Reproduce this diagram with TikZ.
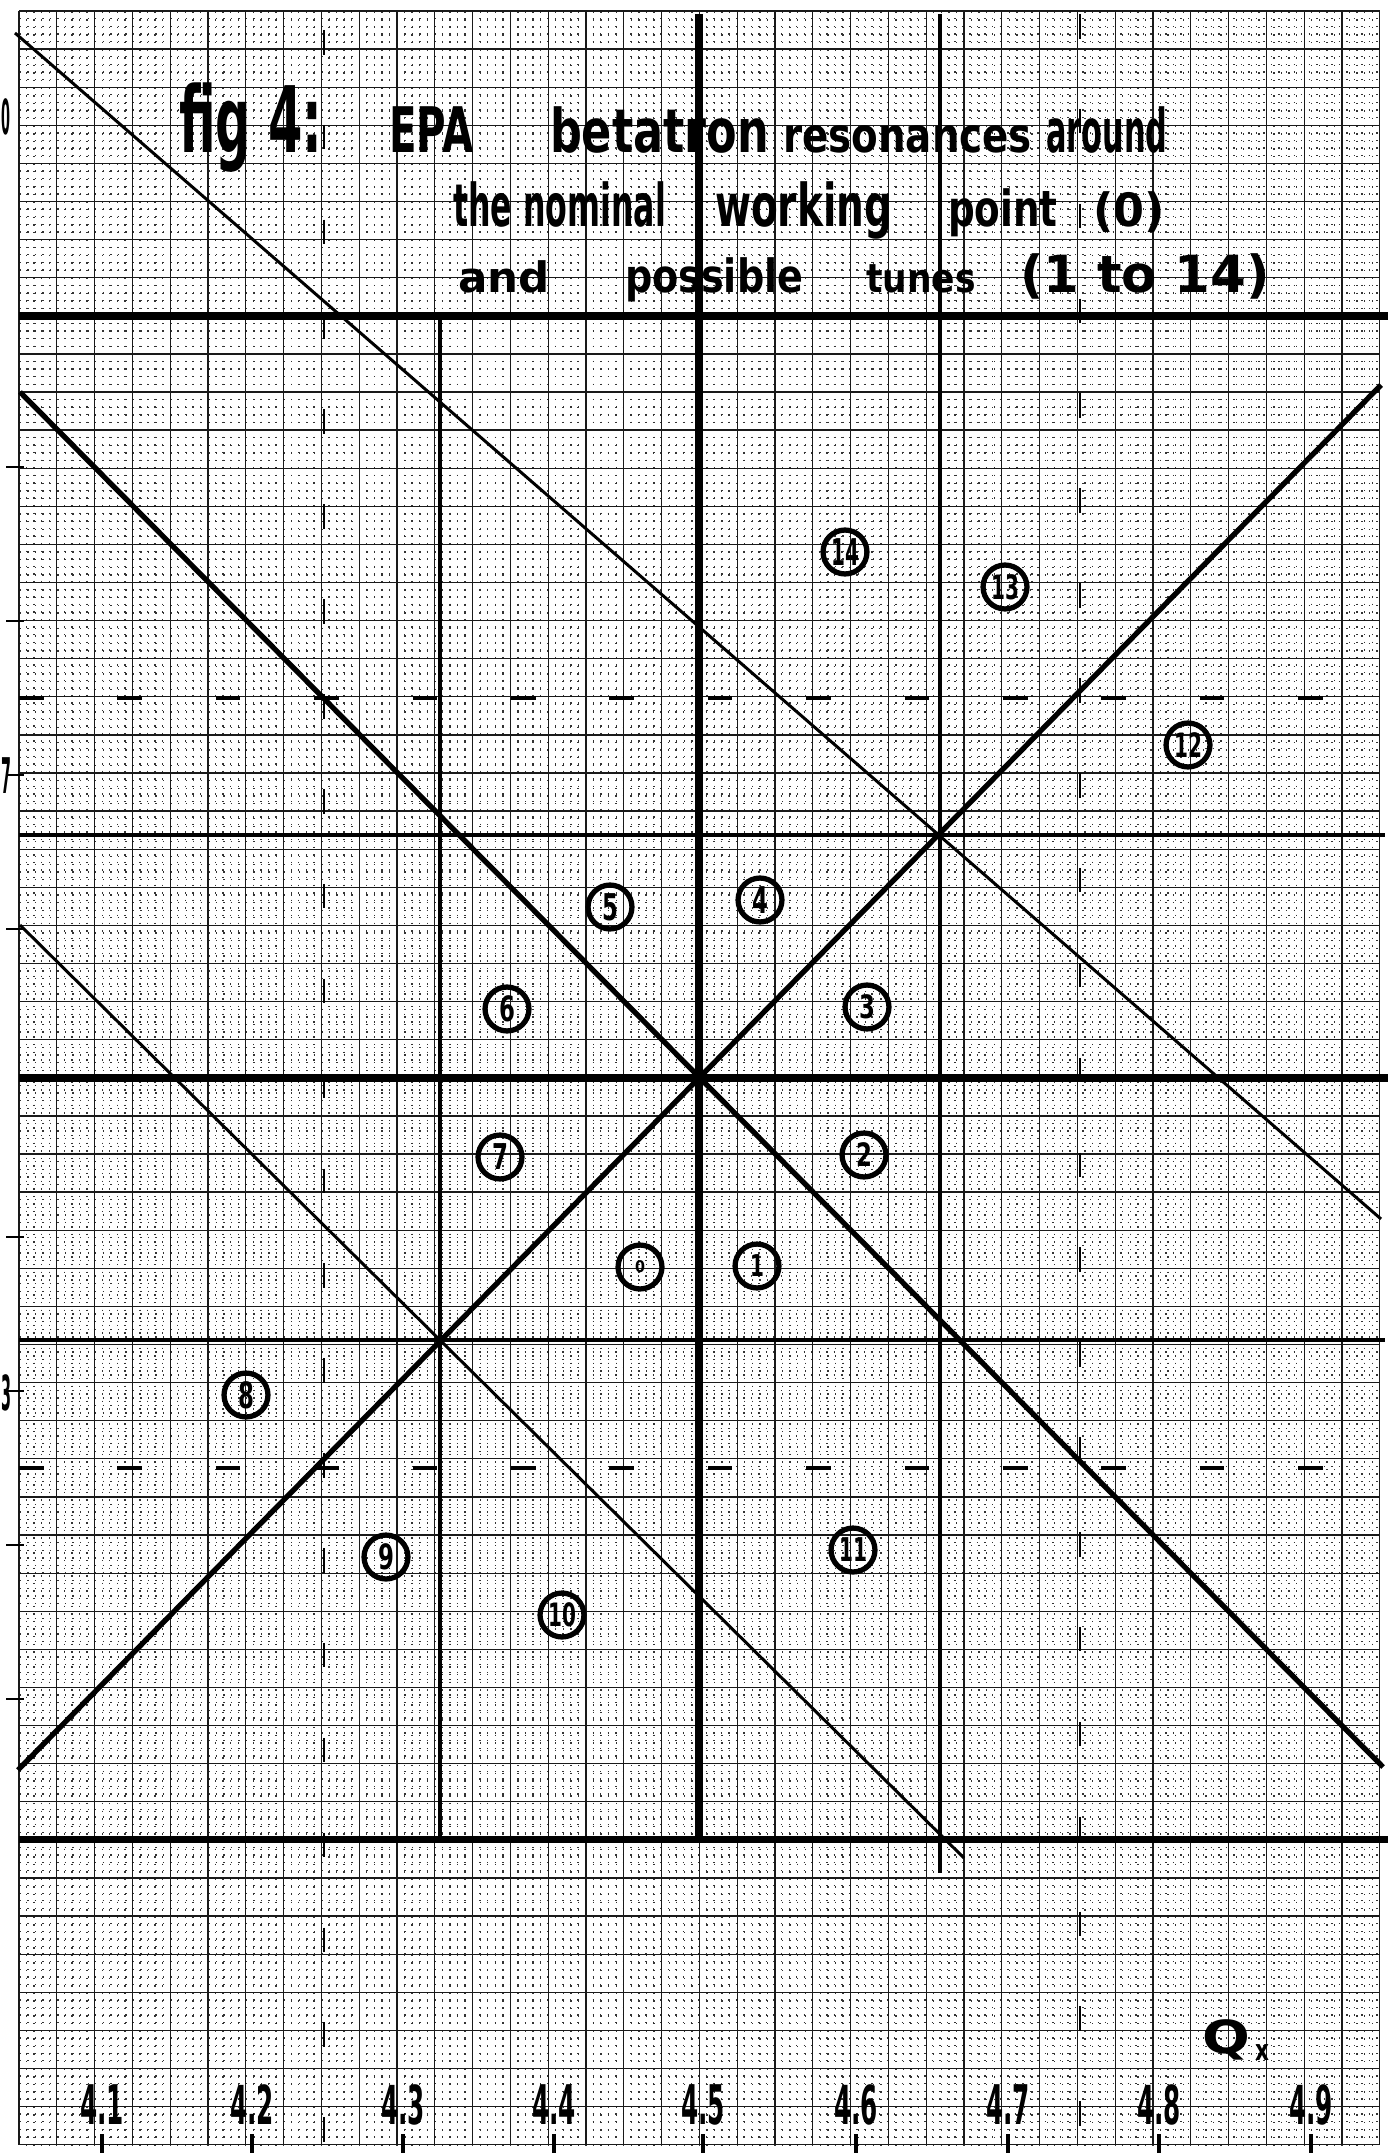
\documentclass[tikz,border=0pt]{standalone}
\usepackage{fontspec}
\newfontfamily\hand{DejaVu Sans}
\newdimen\px \px=0.5669pt
\newcommand{\hw}[3]{\resizebox{#1\px}{#2\px}{\hand\bfseries #3}}
\tikzset{
  gridline/.style={line width=0.7pt, black!90},
  fineh/.style={line width=0.75pt, black!80, dash pattern=on 0.8pt off 3.49pt, dash phase=-0.4pt},
  finev/.style={line width=0.75pt, black!80, dash pattern=on 0.8pt off 3.52pt, dash phase=-0.4pt},
  heavy/.style={line width=4pt},
  medium/.style={line width=2.3pt},
  diag/.style={line width=3pt},
  thindiag/.style={line width=1.7pt},
  quarterh/.style={line width=2pt, dash pattern=on 14pt off 42pt},
  quarterv/.style={line width=1.4pt, dash pattern=on 14pt off 40pt},
  tune/.style={circle, draw, line width=3pt, minimum size=25pt, inner sep=0pt},
  txt/.style={anchor=base west, inner sep=0pt, outer sep=0pt},
  lab/.style={inner sep=0pt, outer sep=0pt},
  tick/.style={line width=1.8pt},
}
\begin{document}
\begin{tikzpicture}[x=0.02cm, y=-0.02cm]
\useasboundingbox (0,0) rectangle (1399,2155);
\clip (0,0) rectangle (1399,2155);
\fill[white] (0,0) rectangle (1399,2155);
% fine 1 mm dotted grid
\foreach \i in {1,...,179} \draw[finev] ({19+\i*7.56},11) -- ({19+\i*7.56},2144.6);
\foreach \j in {1,...,279} \draw[fineh] (19,{11+\j*7.62}) -- (1380,{11+\j*7.62});
% 5 mm solid grid
\foreach \i in {0,...,36} \draw[gridline] ({19+\i*37.8},11) -- ({19+\i*37.8},2144.6);
\foreach \j in {0,...,56} \draw[gridline] (19,{11+\j*38.1}) -- (1380,{11+\j*38.1});
% left ticks (Qy)
\foreach \y in {467,621,775,929,1237,1391,1545,1699} \draw[line width=1.2pt] (6,\y) -- (24,\y);
% quarter-integer resonances (dashed)
\draw[quarterh] (19,698) -- (1385,698);
\draw[quarterh] (19,1468) -- (1385,1468);
\draw[quarterv] (1080,14) -- (1080,2144);
\draw[quarterv] (324,30) -- (324,2144);
% integer and half-integer resonances
\draw[heavy] (19,316) -- (1388,316);
\draw[heavy] (19,1078) -- (1388,1078);
\draw[heavy] (19,1839) -- (1388,1839);
\draw[heavy] (699,14) -- (699,1842);
% third-integer resonances
\draw[medium] (19,835) -- (1385,835);
\draw[medium] (19,1340) -- (1385,1340);
\draw[medium] (440,316) -- (440,1842);
\draw[medium] (940,14) -- (940,1873);
% coupling resonances
\draw[diag] (20,392) -- (1383,1767);
\draw[diag] (18,1770) -- (1381,385);
\draw[thindiag] (15,33) -- (1381,1219);
\draw[thindiag] (20,925) -- (964,1858);
% title
\node[txt] (t1a) at (179,153) {\hw{144}{70}{fig 4:}};
\node[txt] (t1b) at (389,153) {\hw{85}{46}{EPA}};
\node[txt] (t1c) at (550,153) {\hw{220}{46}{betatron}};
\node[txt] (t1d) at (783,153) {\hw{250}{27}{resonances}};
\node[txt] (t1e) at (1046,153) {\hw{122}{46}{around}};
\node[txt] (t2a) at (453,227) {\hw{214}{45}{the nominal}};
\node[txt] (t2b) at (715,227) {\hw{178}{45}{working}};
\node[txt] (t2c) at (948,227) {\hw{110}{38}{point}};
\node[txt] (t2d) at (1093,227) {\hw{72}{35}{(0)}};
\node[txt] (t3a) at (458,293) {\hw{92}{32}{and}};
\node[txt] (t3b) at (625,293) {\hw{179}{35}{possible}};
\node[txt] (t3c) at (866,293) {\hw{110}{28}{tunes}};
\node[txt] (t3d) at (1020,293) {\hw{251}{39}{(1 to 14)}};
% working point and possible tunes
\node[tune] (n0) at (640,1267) {\hw{10}{12}{0}};
\node[tune] (n1) at (757,1266) {\hw{14}{22}{1}};
\node[tune] (n2) at (864,1155) {\hw{16}{24}{2}};
\node[tune] (n3) at (867,1007) {\hw{16}{24}{3}};
\node[tune] (n4) at (760,900) {\hw{16}{27}{4}};
\node[tune] (n5) at (610,907) {\hw{16}{27}{5}};
\node[tune] (n6) at (507,1009) {\hw{16}{26}{6}};
\node[tune] (n7) at (500,1157) {\hw{16}{26}{7}};
\node[tune] (n8) at (246,1395) {\hw{16}{27}{8}};
\node[tune] (n9) at (386,1557) {\hw{16}{26}{9}};
\node[tune] (n10) at (562,1615) {\hw{28}{24}{10}};
\node[tune] (n11) at (853,1550) {\hw{28}{24}{11}};
\node[tune] (n12) at (1188,745) {\hw{28}{25}{12}};
\node[tune] (n13) at (1005,587) {\hw{28}{25}{13}};
\node[tune] (n14) at (845,552) {\hw{28}{27}{14}};
% Qx axis labels and ticks
\foreach \v/\xx in {1/102,2/252,3/403,4/554,5/703,6/856,7/1008,8/1159,9/1311}{
  \node[lab] (lx\v) at (\xx,2105) {\hw{44}{40}{4.\v}};
  \draw[tick] (\xx,2134) -- (\xx,2153);
}
\node[lab, anchor=base west] (qx) at (1202,2053) {\hw{48}{34}{Q}};
\node[lab, anchor=base west] (qxs) at (1255,2060) {\hw{14}{16}{x}};
% label ends visible at the left border (Qy)
\node[lab, anchor=west] (ly1) at (1,117) {\hw{9}{36}{0}};
\node[lab, anchor=west] (ly7) at (1,776) {\hw{10}{36}{7}};
\node[lab, anchor=west] (ly3) at (1,1393) {\hw{10}{36}{3}};
\end{tikzpicture}
\end{document}
